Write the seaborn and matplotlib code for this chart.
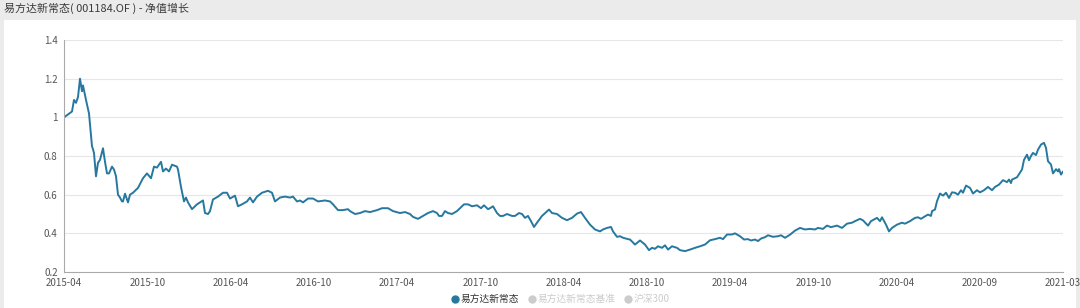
import numpy as np
import pandas as pd
import matplotlib
matplotlib.use("Agg")
import matplotlib.pyplot as plt
from matplotlib.lines import Line2D
from matplotlib.patches import Rectangle
from matplotlib.ticker import FuncFormatter
import seaborn as sns

# ---- data (session index along the category axis, NAV value) ----
session = [0, 8, 10, 12, 14, 16, 18, 19, 22, 25, 28, 29, 30, 32, 34, 36, 39, 41, 43, 45,
           48, 50, 52, 54, 56, 58, 59, 61, 64, 66, 69, 74, 79, 83, 87, 90, 93, 97, 99,
           102, 105, 108, 113, 114, 117, 120, 122, 124, 128, 133, 136, 139, 141, 144, 146,
           149, 154, 159, 163, 166, 171, 174, 178, 183, 186, 189, 193, 198, 204, 208, 211,
           216, 221, 226, 229, 233, 236, 239, 244, 249, 254, 261, 266, 269, 274, 279, 284,
           286, 291, 296, 301, 306, 313, 318, 324, 329, 336, 341, 346, 349, 354, 359, 364,
           369, 373, 375, 378, 381, 384, 388, 393, 396, 400, 404, 408, 413, 417, 420, 424,
           426, 429, 433, 436, 439, 443, 448, 451, 455, 458, 461, 464, 467, 470, 473, 478,
           485, 488, 493, 498, 503, 508, 513, 517, 521, 526, 531, 536, 539, 543, 547, 549,
           553, 556, 559, 564, 566, 571, 576, 581, 585, 588, 591, 594, 598, 601, 604, 608,
           613, 616, 621, 626, 631, 636, 641, 646, 651, 656, 659, 663, 668, 671, 676, 680,
           684, 687, 691, 694, 697, 701, 704, 709, 714, 717, 721, 726, 731, 736, 741, 746,
           751, 754, 759, 763, 767, 773, 778, 783, 788, 791, 796, 799, 804, 807, 813, 816,
           818, 822, 825, 828, 833, 838, 841, 846, 851, 854, 857, 861, 864, 867, 868, 871,
           873, 876, 879, 882, 885, 888, 891, 894, 897, 899, 902, 906, 909, 913, 916, 920,
           924, 928, 931, 935, 939, 943, 945, 947, 948, 953, 958, 960, 963, 965, 967, 969,
           972, 974, 977, 980, 982, 984, 987, 989, 992, 994, 995, 997, 999]
nav = [1.0, 1.03, 1.09, 1.075, 1.105, 1.2, 1.135, 1.165, 1.09, 1.02, 0.85, 0.835, 0.815,
       0.695, 0.765, 0.78, 0.84, 0.77, 0.71, 0.71, 0.745, 0.73, 0.695, 0.6, 0.585, 0.565,
       0.565, 0.605, 0.56, 0.6, 0.61, 0.635, 0.685, 0.71, 0.685, 0.745, 0.74, 0.77, 0.72,
       0.735, 0.72, 0.755, 0.745, 0.73, 0.64, 0.565, 0.585, 0.56, 0.525, 0.55, 0.56, 0.57,
       0.505, 0.5, 0.515, 0.575, 0.59, 0.61, 0.61, 0.58, 0.595, 0.54, 0.55, 0.565, 0.585,
       0.56, 0.59, 0.61, 0.62, 0.61, 0.565, 0.585, 0.59, 0.585, 0.59, 0.565, 0.57, 0.56,
       0.58, 0.58, 0.565, 0.57, 0.565, 0.55, 0.52, 0.52, 0.525, 0.515, 0.5, 0.505, 0.515,
       0.51, 0.52, 0.53, 0.53, 0.515, 0.505, 0.51, 0.5, 0.485, 0.475, 0.49, 0.505, 0.515,
       0.505, 0.49, 0.49, 0.515, 0.505, 0.5, 0.515, 0.53, 0.55, 0.55, 0.54, 0.545, 0.53,
       0.545, 0.525, 0.53, 0.54, 0.505, 0.49, 0.49, 0.5, 0.49, 0.49, 0.505, 0.5, 0.48, 0.49,
       0.463, 0.433, 0.455, 0.49, 0.523, 0.505, 0.5, 0.48, 0.468, 0.48, 0.502, 0.51, 0.48,
       0.445, 0.42, 0.41, 0.42, 0.428, 0.433, 0.41, 0.382, 0.385, 0.377, 0.37, 0.368, 0.342,
       0.363, 0.342, 0.313, 0.325, 0.32, 0.333, 0.325, 0.338, 0.316, 0.333, 0.325, 0.313,
       0.308, 0.316, 0.325, 0.333, 0.342, 0.364, 0.37, 0.377, 0.37, 0.394, 0.394, 0.40,
       0.385, 0.368, 0.37, 0.363, 0.368, 0.36, 0.373, 0.38, 0.39, 0.382, 0.385, 0.39, 0.377,
       0.393, 0.414, 0.428, 0.42, 0.423, 0.42, 0.428, 0.423, 0.44, 0.432, 0.44, 0.428, 0.45,
       0.455, 0.463, 0.475, 0.467, 0.44, 0.463, 0.48, 0.463, 0.483, 0.445, 0.41, 0.428,
       0.445, 0.455, 0.45, 0.463, 0.48, 0.483, 0.475, 0.488, 0.497, 0.49, 0.515, 0.523,
       0.566, 0.606, 0.595, 0.61, 0.583, 0.612, 0.61, 0.6, 0.623, 0.61, 0.647, 0.635, 0.606,
       0.623, 0.612, 0.623, 0.64, 0.623, 0.64, 0.652, 0.675, 0.665, 0.678, 0.66, 0.678,
       0.69, 0.73, 0.78, 0.807, 0.778, 0.8, 0.816, 0.805, 0.833, 0.859, 0.868, 0.842, 0.773,
       0.756, 0.71, 0.732, 0.72, 0.732, 0.704, 0.72]
tick_labels = ["2015-04", "2015-10", "2016-04", "2016-10", "2017-04", "2017-10",
               "2018-04", "2018-10", "2019-04", "2019-10", "2020-04", "2020-09", "2021-03"]
y_ticks = [0.2, 0.4, 0.6, 0.8, 1.0, 1.2, 1.4]
series_names = ["易方达新常态", "易方达新常态基准", "沪深300"]
title = "易方达新常态( 001184.OF ) - 净值增长"

df = pd.DataFrame({"session": session, "nav": nav})

sns.set_theme(style="white")
plt.rcParams["font.family"] = ["Noto Sans CJK SC", "DejaVu Sans"]

W, H = 1080, 308
fig = plt.figure(figsize=(W / 100, H / 100), dpi=100, facecolor="#ebebeb")
panel = Rectangle((4 / W, 0), 1072 / W, 1 - 20 / H, transform=fig.transFigure,
                  facecolor="white", edgecolor="none", zorder=-10)
fig.add_artist(panel)
fig.text(4 / W, 1 - 8 / H, title, fontsize=7.9, color="#3a3a3a", va="center", ha="left")

ax = fig.add_axes([64 / W, 1 - 272 / H, 999 / W, 232 / H])
ax.set_zorder(5)
ax.set_facecolor("none")
line_color = "#27789f"
sns.lineplot(data=df, x="session", y="nav", ax=ax, color=line_color, linewidth=1.4,
             legend=False)

ax.set_xlim(0, 999)
ax.set_ylim(0.2, 1.4)
ax.set_xticks(np.linspace(0, 999, len(tick_labels)))
ax.set_xticklabels(tick_labels)
ax.set_yticks(y_ticks)
ax.yaxis.set_major_formatter(FuncFormatter(lambda v, p: f"{v:g}"))
ax.set_xlabel("")
ax.set_ylabel("")
for yv in y_ticks[1:]:
    ax.axhline(yv, color="#e6e6e6", linewidth=0.8, zorder=0)
for s in ["top", "right"]:
    ax.spines[s].set_visible(False)
for s in ["left", "bottom"]:
    ax.spines[s].set_color("#aaaaaa")
    ax.spines[s].set_linewidth(0.8)
ax.tick_params(axis="both", labelsize=7, colors="#555555", length=3, width=0.7,
               direction="out", pad=1.5)
ax.tick_params(axis="x", color="#aaaaaa", labelcolor="#555555")
ax.tick_params(axis="y", color="#aaaaaa", labelcolor="#555555", length=3)

handles = [
    Line2D([], [], marker="o", linestyle="none", markersize=5, color=line_color),
    Line2D([], [], marker="o", linestyle="none", markersize=5, color="#cccccc"),
    Line2D([], [], marker="o", linestyle="none", markersize=5, color="#cccccc"),
]
leg = fig.legend(handles, series_names, loc="center", bbox_to_anchor=(560 / W, 1 - 299 / H),
                 ncol=3, frameon=False, fontsize=7, handletextpad=0.1, columnspacing=0.8,
                 handlelength=1.0, borderpad=0)
for txt, c in zip(leg.get_texts(), ["#333333", "#cccccc", "#cccccc"]):
    txt.set_color(c)

fig.savefig("out.png", dpi=100, facecolor=fig.get_facecolor())
